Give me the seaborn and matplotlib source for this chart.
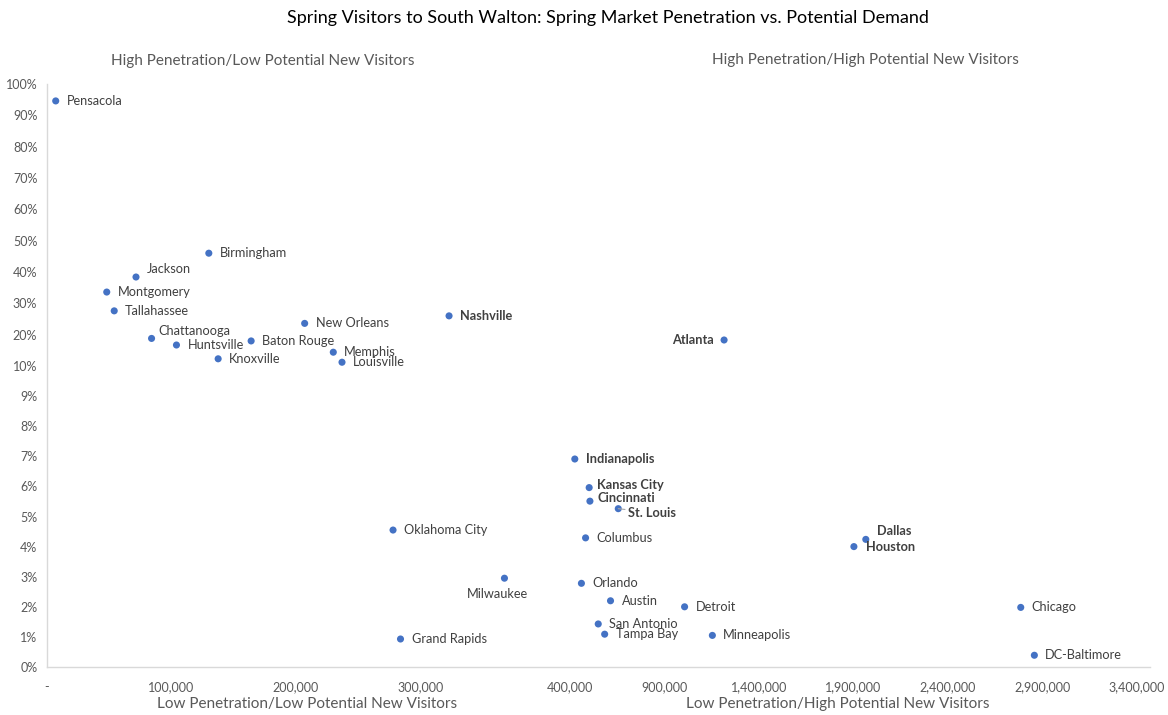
import numpy as np
import pandas as pd
import matplotlib
matplotlib.use("Agg")
import matplotlib.pyplot as plt
import seaborn as sns

# ---------------- data ----------------
cities = ["Pensacola", "Montgomery", "Tallahassee", "Jackson", "Chattanooga", "Huntsville",
          "Birmingham", "Knoxville", "Baton Rouge", "New Orleans", "Memphis", "Louisville",
          "Oklahoma City", "Grand Rapids", "Nashville", "Milwaukee",
          "Indianapolis", "Orlando", "Columbus", "Kansas City", "Cincinnati", "San Antonio",
          "Tampa Bay", "Austin", "St. Louis", "Detroit", "Minneapolis", "Atlanta",
          "Houston", "Dallas", "Chicago", "DC-Baltimore"]
potential_new_visitors = [7000, 48000, 54000, 71500, 84000, 104000,
                          130000, 137500, 164000, 207000, 230000, 237000,
                          278000, 284000, 323000, 367500,
                          426000, 461000, 483000, 502000, 506000, 550000,
                          584000, 615000, 656000, 1007000, 1154000, 1216000,
                          1903000, 1966000, 2786000, 2858000]
penetration = [0.946, 0.336, 0.276, 0.384, 0.188, 0.167,
               0.460, 0.123, 0.180, 0.236, 0.144, 0.112,
               0.0455, 0.0093, 0.260, 0.0295,
               0.0691, 0.0278, 0.0429, 0.0596, 0.0551, 0.0143,
               0.0109, 0.0220, 0.0526, 0.0200, 0.0105, 0.183,
               0.0400, 0.0424, 0.0198, 0.0039]
bold_cities = ["Nashville", "Atlanta", "Indianapolis", "Kansas City", "Cincinnati",
               "St. Louis", "Dallas", "Houston"]

x_ticks = [0, 100000, 200000, 300000, 400001, 900000, 1400000, 1900000, 2400000, 2900000, 3400000]
x_tick_labels = ["-", "100,000", "200,000", "300,000", "400,000", "900,000", "1,400,000",
                 "1,900,000", "2,400,000", "2,900,000", "3,400,000"]
y_ticks = [0, 0.01, 0.02, 0.03, 0.04, 0.05, 0.06, 0.07, 0.08, 0.09, 0.1,
           0.2, 0.3, 0.4, 0.5, 0.6, 0.7, 0.8, 0.9, 1.0]
y_tick_labels = [f"{round(v*100)}%" for v in y_ticks]

title = "Spring Visitors to South Walton: Spring Market Penetration vs. Potential Demand"
quadrant_texts = ["High Penetration/Low Potential New Visitors",
                  "High Penetration/High Potential New Visitors",
                  "Low Penetration/Low Potential New Visitors",
                  "Low Penetration/High Potential New Visitors"]

# label offsets (pixels) and alignment
label_style = {
    "Jackson": (11, 8, "left"),
    "Chattanooga": (7, 7, "left"),
    "Atlanta": (-10, 0, "right"),
    "Kansas City": (8, 3, "left"),
    "Cincinnati": (8, 3, "left"),
    "St. Louis": (10, -4, "left"),
    "Milwaukee": (-7, -16, "center"),
    "Dallas": (11, 8, "left"),
    "Houston": (12, 0, "left"),
}

df = pd.DataFrame({"city": cities, "visitors": potential_new_visitors, "pen": penetration})

# ---------------- piecewise scales ----------------
def make_pw(xp, fp):
    xp = np.asarray(xp, float)
    fp = np.asarray(fp, float)
    s_lo = (fp[1] - fp[0]) / (xp[1] - xp[0])
    s_hi = (fp[-1] - fp[-2]) / (xp[-1] - xp[-2])

    def f(x):
        x = np.asarray(x, float)
        y = np.interp(x, xp, fp)
        y = np.where(x < xp[0], fp[0] + (x - xp[0]) * s_lo, y)
        y = np.where(x > xp[-1], fp[-1] + (x - xp[-1]) * s_hi, y)
        return y
    return f

x_bp = [0, 400000, 400001, 3600000]
x_px = [0, 498, 523, 523 + 3200000 / 500000 * 94.5]
y_bp = [0, 0.1, 1.0]
y_px = [0, 301, 583]

fx, ix = make_pw(x_bp, x_px), make_pw(x_px, x_bp)
fy, iy = make_pw(y_bp, y_px), make_pw(y_px, y_bp)

# ---------------- plot ----------------
sns.set_theme(style="white")
plt.rcParams["font.family"] = ["Lato", "DejaVu Sans"]

W, H = 1168, 715
fig = plt.figure(figsize=(W / 100, H / 100), dpi=100)
ax = fig.add_axes([47 / W, (H - 667) / H, 1103 / W, 583 / H])

sns.scatterplot(data=df, x="visitors", y="pen", ax=ax, color="#4472C4", s=26,
                edgecolor="none", legend=False, zorder=3)

ax.set_xscale("function", functions=(fx, ix))
ax.set_yscale("function", functions=(fy, iy))
ax.set_xlim(0, 3470000)
ax.set_ylim(0, 1.0)

ax.set_xticks(x_ticks)
ax.set_xticklabels(x_tick_labels)
ax.set_yticks(y_ticks)
ax.set_yticklabels(y_tick_labels)
ax.minorticks_off()
ax.tick_params(axis="both", length=0, labelsize=9, colors="#595959")
ax.tick_params(axis="x", pad=10)
ax.tick_params(axis="y", pad=7)
ax.set_xlabel("")
ax.set_ylabel("")

for side in ["top", "right"]:
    ax.spines[side].set_visible(False)
for side in ["left", "bottom"]:
    ax.spines[side].set_color("#D9D9D9")
    ax.spines[side].set_linewidth(1.0)

for c, xv, yv in zip(cities, potential_new_visitors, penetration):
    dx, dy, ha = label_style.get(c, (11, 0, "left"))
    weight = "bold" if c in bold_cities else "normal"
    kw = {}
    if c == "St. Louis":
        kw["arrowprops"] = dict(arrowstyle="-", color="#A6A6A6", lw=0.8,
                                shrinkA=0, shrinkB=0)
    ax.annotate(c, (xv, yv), xytext=(dx, dy), textcoords="offset pixels",
                ha=ha, va="center", fontsize=9.2, color="#404040",
                fontweight=weight, zorder=4, **kw)

fig.text(608 / W, 1 - 18 / H, title, ha="center", va="center", fontsize=13, color="#000000")
fig.text(263 / W, 1 - 61 / H, quadrant_texts[0], ha="center", va="center", fontsize=11, color="#595959")
fig.text(865 / W, 1 - 60 / H, quadrant_texts[1], ha="center", va="center", fontsize=11, color="#595959")
fig.text(307 / W, 1 - 704 / H, quadrant_texts[2], ha="center", va="center", fontsize=11, color="#595959")
fig.text(838 / W, 1 - 704 / H, quadrant_texts[3], ha="center", va="center", fontsize=11, color="#595959")

fig.savefig("out.png", dpi=100, facecolor="white")
